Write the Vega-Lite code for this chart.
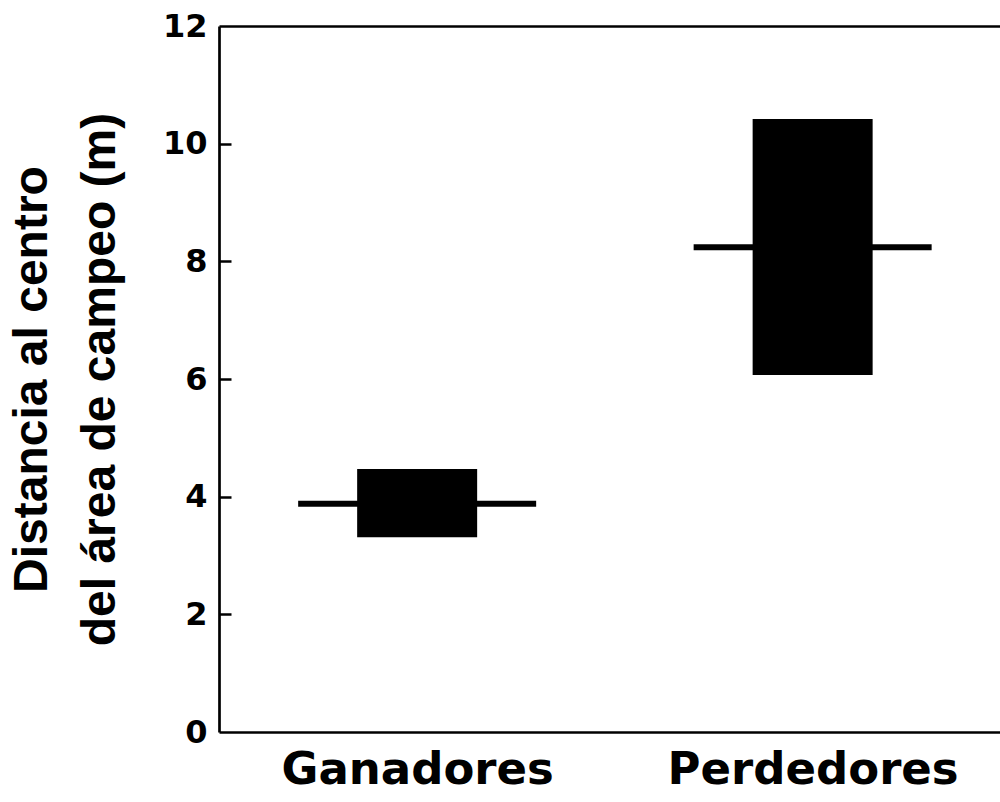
{
  "$schema": "https://vega.github.io/schema/vega-lite/v6.json",
  "autosize": {"type": "none"},
  "padding": {"left": 219, "top": 26, "right": 0, "bottom": 70},
  "width": 781,
  "height": 706,
  "background": "white",
  "config": {"view": {"stroke": null}},
  "data": {
    "values": [
      {"grupo": "Ganadores", "lo": 3.31, "hi": 4.47, "med": 3.88},
      {"grupo": "Perdedores", "lo": 6.07, "hi": 10.42, "med": 8.24}
    ]
  },
  "resolve": {"axis": {"y": "independent"}},
  "encoding": {
    "x": {
      "field": "grupo",
      "type": "nominal",
      "sort": null,
      "scale": {"type": "point", "padding": 0.4874, "align": 0.514},
      "axis": {
        "title": null,
        "labelAngle": 0,
        "labelLimit": 0,
        "labelFont": "DejaVu Sans",
        "labelFontWeight": "bold",
        "labelFontSize": 45,
        "labelColor": "black",
        "labelPadding": 15,
        "ticks": false,
        "domainColor": "black",
        "domainWidth": 2.7
      }
    }
  },
  "layer": [
    {
      "mark": {"type": "bar", "size": 120, "color": "black"},
      "encoding": {
        "y": {
          "field": "lo",
          "type": "quantitative",
          "scale": {"domain": [0, 12], "nice": false, "zero": true},
          "axis": {
            "orient": "left",
            "values": [0, 2, 4, 6, 8, 10, 12],
            "format": "d",
            "title": ["Distancia al centro", "del área de campeo (m)"],
            "titleFont": "Liberation Sans",
            "titleFontWeight": "bold",
            "titleFontSize": 48,
            "titleLineHeight": 68,
            "titleColor": "black",
            "titlePadding": 38,
            "labelFont": "DejaVu Sans",
            "labelFontWeight": "bold",
            "labelFontSize": 32,
            "labelColor": "black",
            "labelPadding": 12,
            "ticks": false,
            "domainColor": "black",
            "domainWidth": 2.7,
            "grid": true,
            "gridColor": "black",
            "gridWidth": 2.7,
            "gridOpacity": {"condition": {"test": "datum.value == 12", "value": 1}, "value": 0}
          }
        },
        "y2": {"field": "hi"}
      }
    },
    {
      "mark": {"type": "tick", "size": 238, "thickness": 6, "color": "black", "opacity": 1},
      "encoding": {
        "y": {
          "field": "med",
          "type": "quantitative",
          "scale": {"domain": [0, 12], "nice": false, "zero": true},
          "axis": {
            "orient": "left",
            "offset": -12,
            "values": [2, 4, 6, 8, 10],
            "title": null,
            "labels": false,
            "domain": false,
            "grid": false,
            "ticks": true,
            "tickSize": 12,
            "tickWidth": 2.5,
            "tickColor": "black"
          }
        }
      }
    }
  ]
}
